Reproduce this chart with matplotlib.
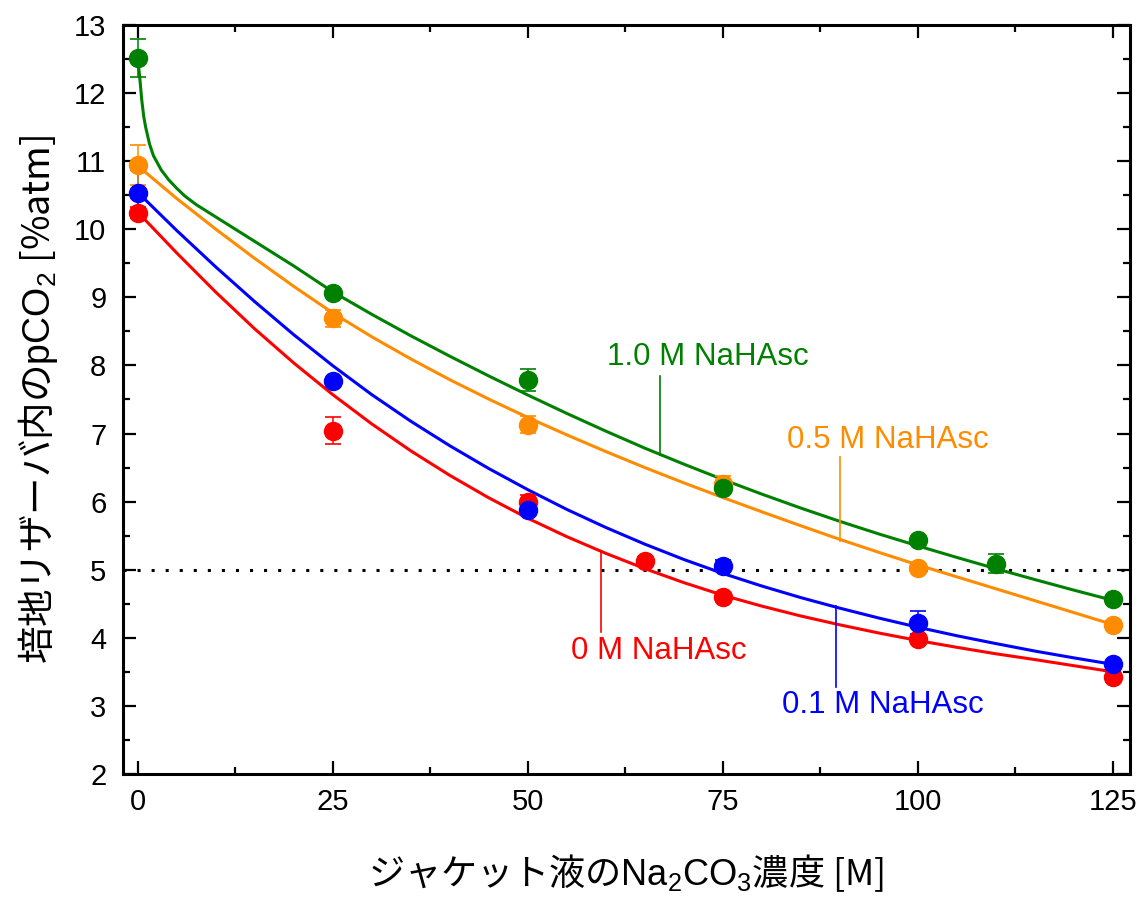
import matplotlib
matplotlib.use("Agg")
import matplotlib.pyplot as plt

plt.rcParams["font.family"] = ["Liberation Sans", "Noto Sans CJK JP"]
plt.rcParams["mathtext.fontset"] = "custom"
plt.rcParams["mathtext.rm"] = "Liberation Sans"
plt.rcParams["mathtext.it"] = "Liberation Sans:italic"
plt.rcParams["mathtext.bf"] = "Liberation Sans:bold"

# measured points (x = Na2CO3 concentration, y = pCO2, e = error)
x_0m = [0, 25, 50, 65, 75, 100, 125]
y_0m = [10.24, 7.04, 5.99, 5.13, 4.60, 3.98, 3.43]
e_0m = [0.08, 0.20, 0.10, 0.06, 0.04, 0.05, 0.08]

x_01m = [0, 25, 50, 75, 100, 125]
y_01m = [10.53, 7.77, 5.88, 5.06, 4.22, 3.62]
e_01m = [0.34, 0.04, 0.04, 0.08, 0.17, 0.04]

x_05m = [0, 25, 50, 75, 100, 125]
y_05m = [10.94, 8.69, 7.13, 6.26, 5.03, 4.19]
e_05m = [0.29, 0.12, 0.12, 0.12, 0.04, 0.05]

x_10m = [0, 25, 50, 75, 100, 110, 125]
y_10m = [12.51, 9.07, 7.78, 6.20, 5.43, 5.09, 4.57]
e_10m = [0.28, 0.05, 0.16, 0.08, 0.04, 0.14, 0.04]

# fitted curves
fx = [0, 5, 10, 15, 20, 25, 30, 35, 40, 45, 50, 55, 60, 65, 70, 75,
      80, 85, 90, 95, 100, 105, 110, 115, 120, 125]
fit_0m = [10.25, 9.65, 9.075, 8.535, 8.035, 7.57, 7.14, 6.745, 6.385, 6.055, 5.755, 5.485,
          5.24, 5.015, 4.81, 4.625, 4.465, 4.32, 4.19, 4.07, 3.96, 3.86, 3.765, 3.68,
          3.59, 3.50]
fit_01m = [10.54, 9.98, 9.445, 8.935, 8.45, 7.995, 7.57, 7.18, 6.82, 6.485, 6.175, 5.885,
           5.62, 5.375, 5.15, 4.945, 4.76, 4.59, 4.435, 4.29, 4.155, 4.03, 3.915, 3.805,
           3.705, 3.61]
fit_05m = [10.93, 10.45, 10.0, 9.57, 9.16, 8.77, 8.42, 8.095, 7.79, 7.505, 7.235, 6.98,
           6.735, 6.50, 6.275, 6.06, 5.85, 5.645, 5.445, 5.255, 5.07, 4.895, 4.72, 4.545,
           4.37, 4.195]
fx_10m = [0, 0.25, 0.5, 0.75, 1, 1.5, 2, 3, 4, 5, 6, 7.5, 10, 12.5, 15, 17.5, 20, 22.5,
          25, 30, 35, 40, 45, 50, 55, 60, 65, 70, 75, 80, 85, 90, 95, 100, 105, 110,
          115, 120, 125]
fit_10m = [12.5, 12.22, 11.9, 11.66, 11.5, 11.25, 11.08, 10.87, 10.72, 10.6, 10.49, 10.36,
           10.18, 10.0, 9.82, 9.64, 9.46, 9.27, 9.08, 8.75, 8.435, 8.135, 7.845, 7.565,
           7.295, 7.035, 6.785, 6.55, 6.325, 6.11, 5.905, 5.71, 5.525, 5.35, 5.18, 5.015,
           4.855, 4.70, 4.55]

series = [
    (x_0m, y_0m, e_0m, fx, fit_0m, "#ff0000"),
    (x_01m, y_01m, e_01m, fx, fit_01m, "#0000ff"),
    (x_05m, y_05m, e_05m, fx, fit_05m, "#ff8c00"),
    (x_10m, y_10m, e_10m, fx_10m, fit_10m, "#008000"),
]

# label text, text position, leader line (x, y_from, y_to)
labels = [
    ("0 M NaHAsc", 55.6, 3.81, 59.4, 5.26, 4.09, "#ff0000"),
    ("0.1 M NaHAsc", 82.6, 3.01, 89.5, 4.46, 3.28, "#0000ff"),
    ("0.5 M NaHAsc", 83.2, 6.91, 90.0, 5.42, 6.65, "#ff8c00"),
    ("1.0 M NaHAsc", 60.1, 8.12, 67.0, 6.68, 7.84, "#008000"),
]

fig = plt.figure(figsize=(11.37, 9.01), dpi=100)
ax = fig.add_axes([0.1082, 0.141, 0.8856, 0.8313])

ax.axhline(5, color="black", lw=2.2, ls=(0, (1, 3.6)), zorder=1)

for xs, ys, es, cx, cy, c in series:
    ax.plot(cx, cy, color=c, lw=2.2, zorder=2)
    ax.errorbar(xs, ys, yerr=es, fmt="o", color=c, mec=c, ms=13,
                elinewidth=1.1, capsize=6, capthick=1.2, zorder=3)

for text, tx, ty, lx, y0, y1, c in labels:
    ax.plot([lx, lx], [y0, y1], color=c, lw=1.2, zorder=2)
    ax.text(tx, ty, text, color=c, fontsize=22.5, ha="left", va="center")

ax.set_xlim(-1.9, 127.2)
ax.set_ylim(2, 13)
ax.set_xticks([0, 25, 50, 75, 100, 125])
ax.set_xticks([12.5, 37.5, 62.5, 87.5, 112.5], minor=True)
ax.set_yticks(range(2, 14))
ax.set_yticks([i + 0.5 for i in range(2, 13)], minor=True)
ax.tick_params(which="both", direction="in", top=True, right=True, width=1.6, labelsize=21)
ax.tick_params(which="major", length=9.5)
ax.tick_params(which="minor", length=5)
ax.tick_params(axis="x", pad=10)
ax.tick_params(axis="y", pad=12)
for s in ax.spines.values():
    s.set_linewidth(2.2)

ax.set_xlabel("ジャケット液の$\\mathrm{Na_2CO_3}$濃度 [M]", family="Noto Sans CJK JP",
              fontsize=26, labelpad=26)
ax.set_ylabel("培地リザーバ内の$\\mathrm{pCO_2}$ [%atm]", family="Noto Sans CJK JP",
              fontsize=27, labelpad=10)

fig.savefig("out.png", dpi=100)
